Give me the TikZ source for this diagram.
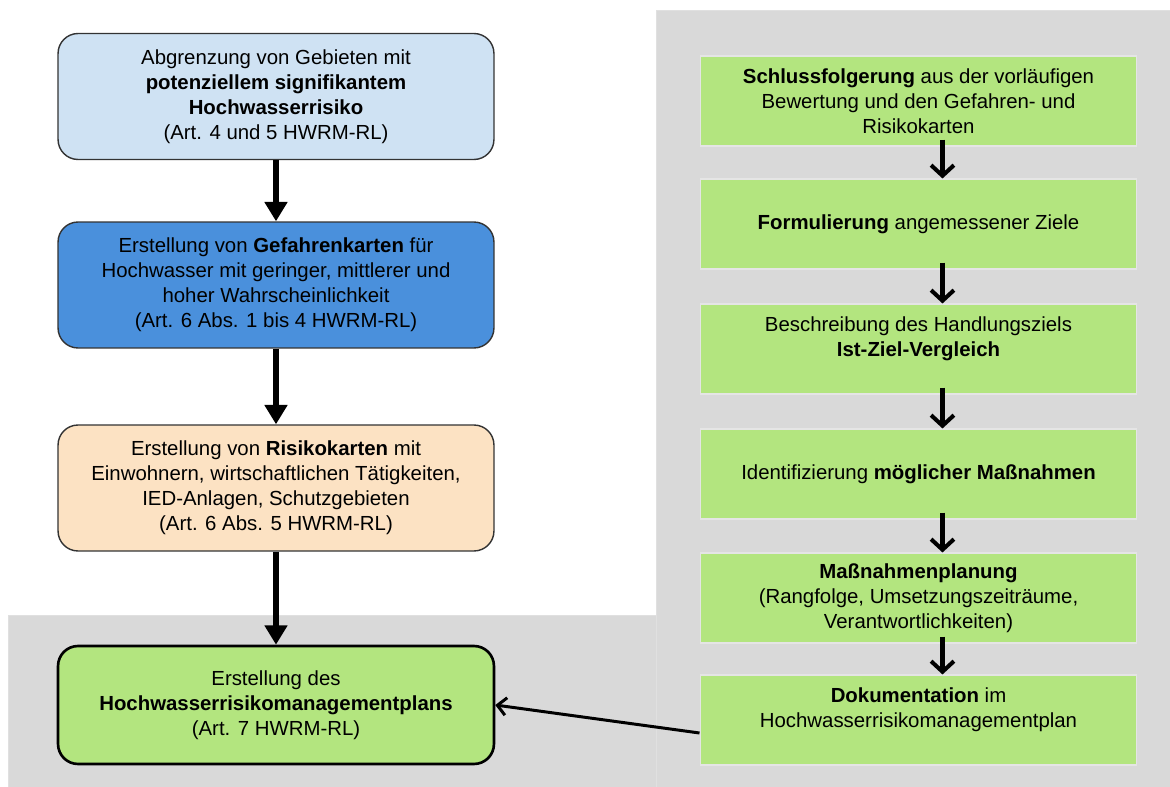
\documentclass[tikz,border=0pt]{standalone}
\usepackage{fontspec}
\setmainfont{Liberation Sans}
\usepackage{xcolor}
\usetikzlibrary{arrows.meta}

\definecolor{hellblau}{HTML}{CFE2F3}
\definecolor{blau}{HTML}{4A90DC}
\definecolor{pfirsich}{HTML}{FCE2C3}
\definecolor{gruen}{HTML}{B3E57F}
\definecolor{grau}{HTML}{D9D9D9}

\tikzset{
  links/.style={draw=black!80, line width=0.8pt, rounded corners=0.4cm,
    minimum width=8.72cm, minimum height=2.52cm, align=center,
    font=\fontsize{11.6}{14.2}\selectfont},
  rechts/.style={fill=gruen, draw=black!10, line width=0.6pt,
    minimum width=8.74cm, minimum height=1.8cm, align=center,
    font=\fontsize{11.6}{14.2}\selectfont},
  pfeil/.style={line width=3.4pt, -{Triangle[length=11pt,width=12.5pt]}},
  pfeilr/.style={line width=2.3pt, -{Straight Barb[length=6pt,width=13pt]}},
}

\begin{document}
\begin{tikzpicture}[x=0.02cm, y=-0.02cm]
    \useasboundingbox (0,0) rectangle (1170,787);

    % graue Flaechen
    \draw [fill=grau, draw=black!12] (656,10) rectangle (1170,787);
    \draw [fill=grau, draw=black!12] (8,615) rectangle (656,787);

    % linke Spalte
    \node [links, fill=hellblau] (abgr) at (276,96.5) {Abgrenzung von Gebieten mit\\
        \textbf{potenziellem signifikantem}\\ \textbf{Hochwasserrisiko}\\ (Art. 4 und 5 HWRM-RL)};
    \node [links, fill=blau] (gefahr) at (276,285) {Erstellung von \textbf{Gefahrenkarten} für\\
        Hochwasser mit geringer, mittlerer und\\ hoher Wahrscheinlichkeit\\ (Art. 6 Abs. 1 bis 4 HWRM-RL)};
    \node [links, fill=pfirsich] (risiko) at (276,488) {Erstellung von \textbf{Risikokarten} mit\\
        Einwohnern, wirtschaftlichen Tätigkeiten,\\ IED-Anlagen, Schutzgebieten\\ (Art. 6 Abs. 5 HWRM-RL)};
    \node [links, fill=gruen, draw=black, line width=1.5pt, minimum height=2.36cm] (plan) at (276,705)
        {Erstellung des\\ \textbf{Hochwasserrisikomanagementplans}\\ (Art. 7 HWRM-RL)};

    \draw [pfeil] (abgr) -- (gefahr);
    \draw [pfeil] (gefahr) -- (risiko);
    \draw [pfeil] (risiko) -- (plan);

    % rechte Spalte
    \node [rechts] (schluss) at (918.5,101) {\textbf{Schlussfolgerung} aus der vorläufigen\\
        Bewertung und den Gefahren- und\\ Risikokarten};
    \node [rechts] (ziele) at (918.5,224) {\textbf{Formulierung} angemessener Ziele};
    \node [rechts] (ist) at (918.5,349) {Beschreibung des Handlungsziels\\ \textbf{Ist-Ziel-Vergleich}\\ ~};
    \node [rechts] (mass) at (918.5,474) {Identifizierung \textbf{möglicher Maßnahmen}};
    \node [rechts] (planung) at (918.5,598) {\textbf{Maßnahmenplanung}\\
        (Rangfolge, Umsetzungszeiträume,\\ Verantwortlichkeiten)};
    \node [rechts] (doku) at (918.5,720) {\textbf{Dokumentation} im\\ Hochwasserrisikomanagementplan\\ ~};

    \foreach \a/\b in {schluss/ziele, ziele/ist, ist/mass, mass/planung, planung/doku}
        \draw [pfeilr] ([xshift=0.48cm,yshift=0.14cm]\a.south) -- ([xshift=0.48cm]\b.north);

    \draw [line width=1.7pt, -{Straight Barb[length=5pt,width=10pt]}]
        ([yshift=-0.26cm]doku.west) -- (plan.east);

\end{tikzpicture}
\end{document}
